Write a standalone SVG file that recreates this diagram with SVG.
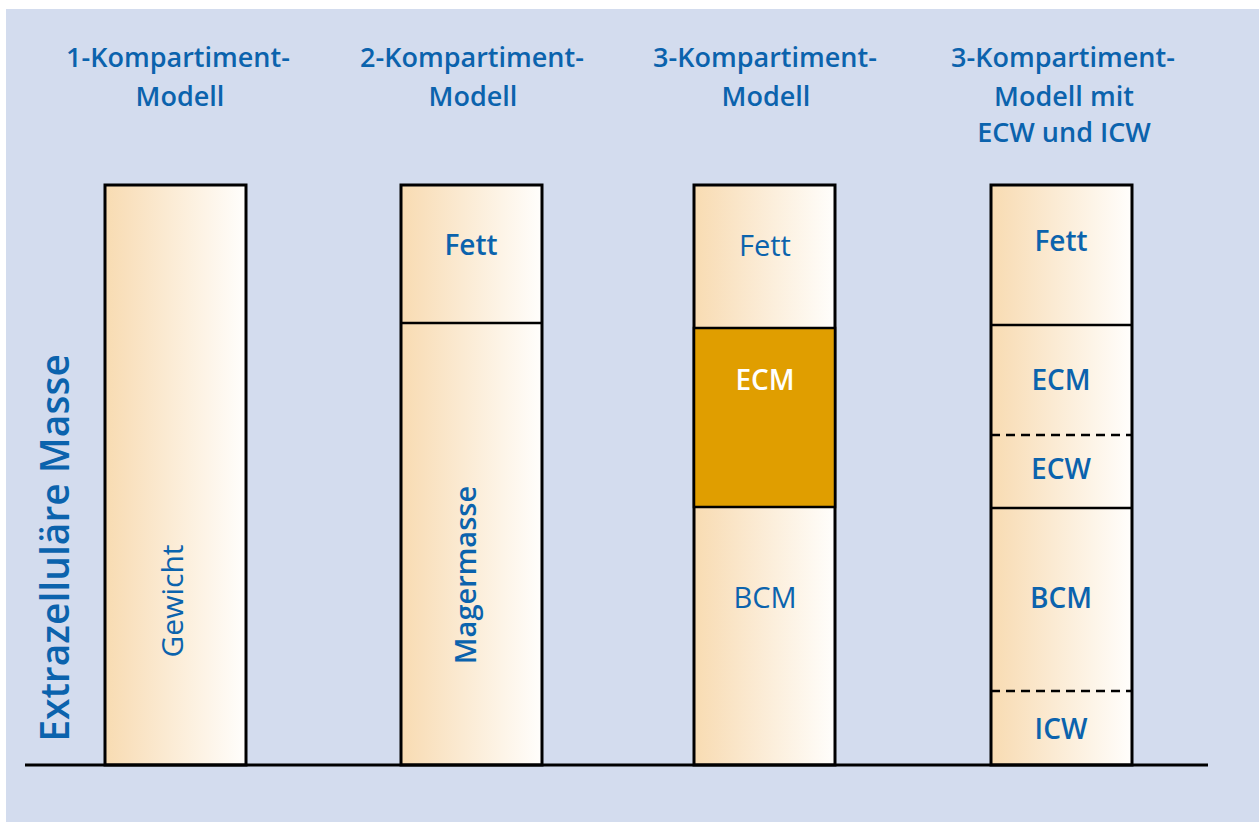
<svg xmlns="http://www.w3.org/2000/svg" width="1259" height="822" viewBox="0 0 1259 822">
<defs>
<linearGradient id="g" x1="0" y1="0" x2="1" y2="0">
<stop offset="0" stop-color="#f8dcb2"/>
<stop offset="0.15" stop-color="#f9e0bd"/>
<stop offset="1" stop-color="#fffefc"/>
</linearGradient>
<style>
text{font-family:"Open Sans","Noto Sans",sans-serif;fill:#0b63ad;text-anchor:middle}
.t{font-size:27px;font-weight:600}
.l{font-size:28px}
.n{font-size:29px}
.b{font-weight:600}
.bar{fill:url(#g);stroke:#000;stroke-width:3}
.div{stroke:#000;stroke-width:2.5}
.dash{stroke:#000;stroke-width:2.5;stroke-dasharray:9,6}
</style>
</defs>
<rect x="6" y="9" width="1253" height="813" fill="#d3dcee"/>
<g id="titles">
<text class="t" x="178" y="67">1-Kompartiment-</text>
<text class="t" x="180" y="106">Modell</text>
<text class="t" x="472" y="67">2-Kompartiment-</text>
<text class="t" x="473" y="106">Modell</text>
<text class="t" x="765" y="67">3-Kompartiment-</text>
<text class="t" x="766" y="106">Modell</text>
<text class="t" x="1063" y="67">3-Kompartiment-</text>
<text class="t" x="1064" y="106">Modell mit</text>
<text class="t" x="1064" y="142">ECW und ICW</text>
</g>
<g id="axis-label">
<text class="b" style="font-size:39px" transform="translate(69,548) rotate(-90)">Extrazelluläre Masse</text>
</g>
<g id="bar1">
<rect class="bar" x="105" y="185" width="141" height="580"/>
<text style="font-size:30px" transform="translate(183,601) rotate(-90)">Gewicht</text>
</g>
<g id="bar2">
<rect class="bar" x="401" y="185" width="141" height="580"/>
<line class="div" x1="401" y1="323" x2="542" y2="323"/>
<text class="l b" x="471" y="255">Fett</text>
<text class="l b" style="font-size:29px" transform="translate(476,575) rotate(-90)">Magermasse</text>
</g>
<g id="bar3">
<rect class="bar" x="694" y="185" width="141" height="580"/>
<rect x="694" y="328" width="141" height="179" fill="#e09e00" stroke="#000" stroke-width="2.5"/>
<text class="n" x="765" y="256">Fett</text>
<text class="l b" x="765" y="390" style="fill:#fff">ECM</text>
<text class="n" x="765" y="608">BCM</text>
</g>
<g id="bar4">
<rect class="bar" x="991" y="185" width="141" height="580"/>
<line class="div" x1="991" y1="325" x2="1132" y2="325"/>
<line class="dash" x1="991" y1="435" x2="1132" y2="435"/>
<line class="div" x1="991" y1="508" x2="1132" y2="508"/>
<line class="dash" x1="991" y1="691" x2="1132" y2="691"/>
<text class="l b" x="1061" y="251">Fett</text>
<text class="l b" x="1061" y="390">ECM</text>
<text class="l b" x="1061" y="479">ECW</text>
<text class="l b" x="1061" y="608">BCM</text>
<text class="l b" x="1061" y="739">ICW</text>
</g>
<g id="connectors">
<line x1="25" y1="765" x2="1208" y2="765" stroke="#000" stroke-width="3"/>
</g>
</svg>
